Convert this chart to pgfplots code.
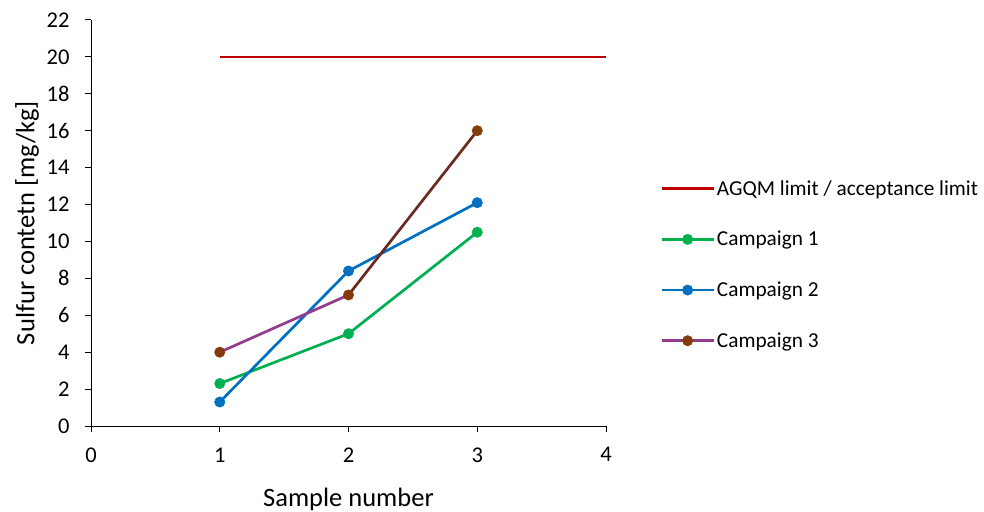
\documentclass[border=0pt]{standalone}
\usepackage{pgfplots}
\pgfplotsset{compat=1.18}
\usepackage{fontspec}
\setmainfont{Carlito}
\definecolor{cred}{HTML}{C00000}
\definecolor{cgreen}{HTML}{00B050}
\definecolor{cblue}{HTML}{0070C0}
\definecolor{cpurple}{HTML}{933C8E}
\definecolor{cbrown}{HTML}{843C0C}
\definecolor{cdbrown}{HTML}{6A2B22}
\begin{document}
\begin{tikzpicture}
\useasboundingbox (0,0) rectangle (984pt,511pt);
\begin{axis}[
  at={(91pt,85pt)}, anchor=south west,
  scale only axis, width=515pt, height=406pt,
  xmin=0, xmax=4, ymin=0, ymax=22,
  xtick={0,1,2,3,4}, ytick={0,2,...,22},
  axis x line*=bottom, axis y line*=left,
  axis line style={line width=1pt, -},
  tick style={black, line width=1pt},
  tick align=outside, major tick length=6pt,
  /pgf/number format/assume math mode=true,
  ticklabel style={font=\fontsize{22.5}{26}\selectfont},
  xticklabel style={yshift=-12pt},
  yticklabel style={xshift=-12pt},
  xlabel={Sample number}, ylabel={Sulfur contetn [mg/kg]},
  label style={font=\fontsize{26.5}{30}\selectfont},
  xlabel style={at={(axis description cs:0.5,-0.18)}, anchor=center},
  ylabel style={at={(axis description cs:-0.124,0.5)}, anchor=center},
  clip=false,
  legend style={at={(axis description cs:1.105,0.61)}, anchor=north west, draw=none, fill=none,
    font=\fontsize{21.3}{25}\selectfont, row sep=30.5pt, inner sep=0pt,
    /tikz/every even column/.append style={column sep=4pt}},
  legend cell align=left,
  legend image code/.code={\draw[mark repeat=2,mark phase=2,#1] plot coordinates {(0pt,0pt) (26pt,0pt) (52pt,0pt)};},
  mark size=5.2pt,
]
\addplot[cred, line width=2.7pt, no markers] coordinates {(1,20) (4,20)};
\addlegendentry{AGQM limit / acceptance limit}
\addplot[cgreen, line width=2.7pt, mark=*, mark options={fill=cgreen, draw=cgreen, line width=0.5pt}] coordinates {(1,2.3) (2,5.0) (3,10.5)};
\addlegendentry{Campaign 1}
\addplot[cblue, line width=2.7pt, mark=*, mark options={fill=cblue, draw=cblue, line width=0.5pt}] coordinates {(1,1.3) (2,8.4) (3,12.1)};
\addlegendentry{Campaign 2}
\addplot[cpurple, line width=2.7pt, no markers, forget plot] coordinates {(1,4.0) (2,7.1)};
\addplot[cdbrown, line width=2.7pt, no markers, forget plot] coordinates {(2,7.1) (3,16.0)};
\addplot[only marks, mark=*, mark options={fill=cbrown, draw=cbrown, line width=0.5pt}, forget plot] coordinates {(1,4.0) (2,7.1) (3,16.0)};
\addlegendimage{cpurple, line width=2.7pt, mark=*, mark options={fill=cbrown, draw=cbrown, line width=0.5pt}}
\addlegendentry{Campaign 3}
\end{axis}
\end{tikzpicture}
\end{document}
